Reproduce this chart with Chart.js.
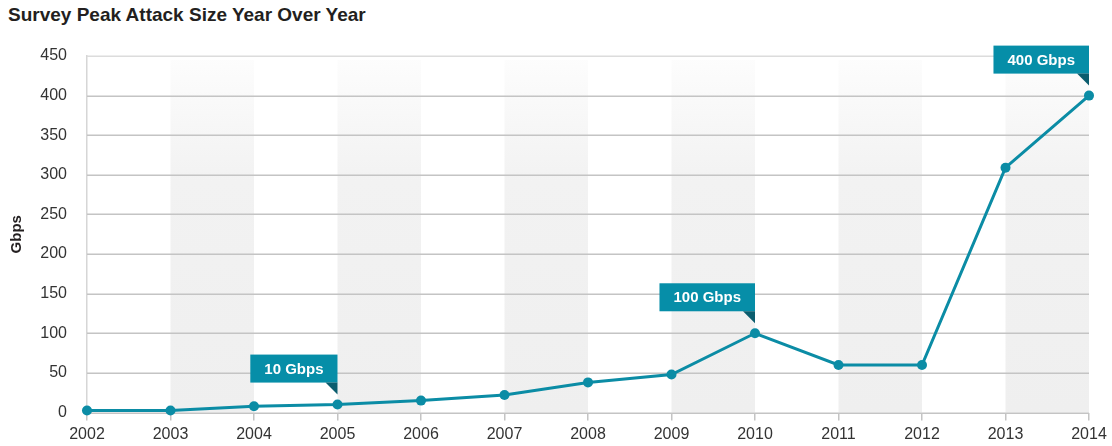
<!DOCTYPE html>
<html>
<head>
<meta charset="utf-8">
<script src="https://cdn.jsdelivr.net/npm/chart.js@4/dist/chart.umd.min.js"></script>
<style>
  html, body { margin: 0; padding: 0; background: #fff; }
  #wrap { position: relative; width: 1112px; height: 446px; }
  #title {
    position: absolute; left: 8px; top: 4px;
    font: bold 19px "Liberation Sans", Arial, sans-serif;
    color: #231f20; white-space: nowrap;
  }
  canvas { position: absolute; left: 0; top: 0; }
</style>
</head>
<body>
<div id="wrap">
  <div id="title">Survey Peak Attack Size Year Over Year</div>
  <canvas id="chart" width="1112" height="446"></canvas>
</div>
<script>
const years = ['2002', '2003', '2004', '2005', '2006', '2007', '2008', '2009', '2010', '2011', '2012', '2013', '2014'];
const peakGbps = [2.5, 2.5, 8, 10, 15, 22, 38, 48, 100, 60, 60, 309, 400];
const yTicks = [0, 50, 100, 150, 200, 250, 300, 350, 400, 450];
// callouts: index into years, text shown in the flag
const calloutIdx = [3, 8, 12];
const calloutText = ['10 Gbps', '100 Gbps', '400 Gbps'];

const TEAL = '#0b8ca5';
const FLAG = '#068ea8';
const FLAG_DARK = '#0b5d6e';
const FONT = '"Liberation Sans", Arial, sans-serif';

// shaded column behind every other year pair (2003-04, 2005-06, ...)
const bandsPlugin = {
  id: 'bands',
  beforeDatasetsDraw(chart) {
    const { ctx, chartArea: a, scales: { x } } = chart;
    const g = ctx.createLinearGradient(0, a.top, 0, a.bottom);
    g.addColorStop(0, '#fdfdfd');
    g.addColorStop(0.35, '#f2f2f2');
    g.addColorStop(1, '#efefef');
    ctx.save();
    ctx.fillStyle = g;
    for (let i = 1; i < years.length - 1; i += 2) {
      const x0 = x.getPixelForValue(i), x1 = x.getPixelForValue(i + 1);
      ctx.fillRect(x0, a.top + 4, x1 - x0, a.bottom - a.top - 4);
    }
    ctx.restore();
    // redraw horizontal grid on top of the bands
    const y = chart.scales.y;
    ctx.save();
    ctx.lineWidth = 1.5;
    yTicks.forEach(v => {
      const py = Math.round(y.getPixelForValue(v)) + 0.25;
      ctx.strokeStyle = v === 450 ? '#dcdcdc' : '#c4c4c4';
      ctx.beginPath();
      ctx.moveTo(a.left, py);
      ctx.lineTo(a.right, py);
      ctx.stroke();
    });
    ctx.restore();
  }
};

// flag labels above selected points
const calloutPlugin = {
  id: 'callouts',
  afterDatasetsDraw(chart) {
    const { ctx } = chart;
    const pts = chart.getDatasetMeta(0).data;
    ctx.save();
    ctx.font = 'bold 15px ' + FONT;
    ctx.textBaseline = 'middle';
    ctx.textAlign = 'center';
    calloutIdx.forEach((idx, k) => {
      const p = pts[idx];
      const w = ctx.measureText(calloutText[k]).width + 28;
      const h = 28;
      const right = p.x, bottom = p.y - 22;
      ctx.fillStyle = FLAG;
      ctx.fillRect(right - w, bottom - h, w, h);
      ctx.fillStyle = FLAG_DARK;
      ctx.beginPath();
      ctx.moveTo(right - 12, bottom);
      ctx.lineTo(right, bottom);
      ctx.lineTo(right, p.y - 10);
      ctx.closePath();
      ctx.fill();
      ctx.fillStyle = '#fff';
      ctx.fillText(calloutText[k], right - w / 2, bottom - h / 2 + 1);
    });
    ctx.restore();
  }
};

new Chart(document.getElementById('chart'), {
  type: 'line',
  data: {
    labels: years,
    datasets: [{
      data: peakGbps,
      borderColor: TEAL,
      backgroundColor: TEAL,
      borderWidth: 3,
      pointRadius: 5,
      pointBackgroundColor: TEAL,
      pointBorderWidth: 0,
      tension: 0,
      clip: 10,
    }]
  },
  options: {
    responsive: false,
    animation: false,
    layout: { padding: { left: 8, right: 23, top: 56, bottom: 0 } },
    plugins: { legend: { display: false }, tooltip: { enabled: false } },
    scales: {
      x: {
        offset: false,
        grid: { drawOnChartArea: false, drawTicks: true, tickLength: 8, color: '#c4c4c4', lineWidth: 1.5 },
        border: { display: false },
        ticks: { color: '#333', font: { family: FONT, size: 16 }, padding: 4, maxRotation: 0, autoSkip: false },
        afterFit(s) { s.height = 33.5; }
      },
      y: {
        min: 0, max: 450,
        afterBuildTicks(s) { s.ticks = yTicks.map(v => ({ value: v })); },
        grid: { display: false, drawTicks: false },
        border: { display: true, color: '#d6d6d6', width: 1.5 },
        ticks: { color: '#333', font: { family: FONT, size: 16 }, padding: 20 },
        title: { display: true, text: 'Gbps', color: '#231f20', font: { family: FONT, size: 15, weight: 'bold' }, padding: 0 },
        afterFit(s) { s.width = 79; }
      }
    }
  },
  plugins: [bandsPlugin, calloutPlugin]
});
</script>
</body>
</html>
